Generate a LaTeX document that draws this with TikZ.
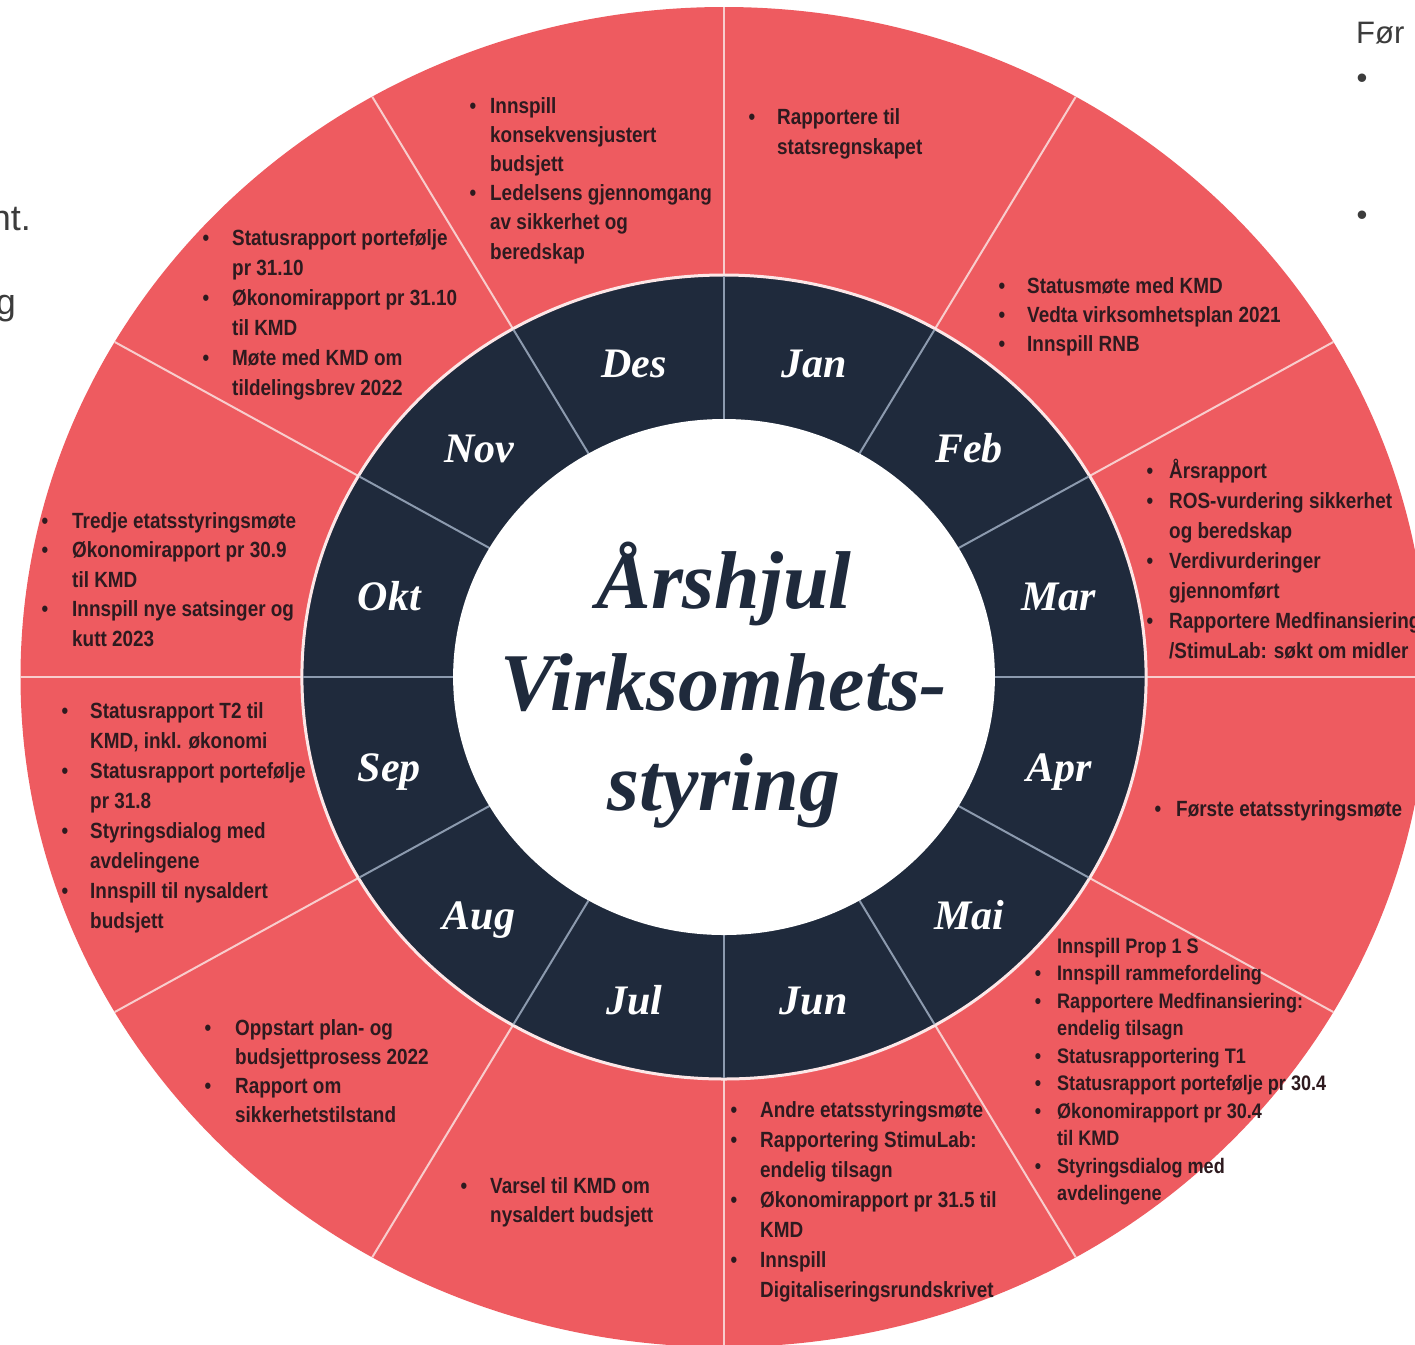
\documentclass[tikz,border=0pt]{standalone}
\usepackage{fontspec}
\newfontfamily\bodyfont{Liberation Sans}[FakeStretch=0.86]
\newfontfamily\slidefont{Liberation Sans}
\newfontfamily\titlefont{Liberation Serif}

\definecolor{wheelred}{RGB}{238,91,96}
\definecolor{wheelnavy}{RGB}{31,42,60}
\definecolor{itemink}{RGB}{46,26,31}
\definecolor{redspoke}{RGB}{248,205,205}
\definecolor{navyspoke}{RGB}{140,154,174}
\definecolor{slidegray}{RGB}{60,60,60}

% bullet hung to the left of a line, gap set per block
\newlength\bulgap
\newcommand\itembul{\llap{\textbullet\hspace{\bulgap}}}
% #1 name, #2 extra style, #3 x of text, #4 first baseline, #5 line step, #6 bullet gap, #7 lines
\newcommand\itemblock[7]{%
  \setlength\bulgap{#6pt}%
  \foreach \blockline [count=\k from 0] in {#7}{%
    \node[itemtext,#2] (#1-\k) at (#3, {-(#4+\k*#5)}) {\blockline};
  }%
}

\begin{document}
\begin{tikzpicture}[x=1pt,y=1pt,
  itemtext/.style={font=\bodyfont\bfseries\fontsize{22}{26}\selectfont,
    text=itemink, inner sep=0, anchor=base west},
  maitext/.style={font=\bodyfont\bfseries\fontsize{21}{25}\selectfont},
  monthlabel/.style={font=\titlefont\bfseries\itshape\fontsize{42}{42}\selectfont,
    text=white, inner sep=0, anchor=base},
  titletext/.style={font=\titlefont\bfseries\itshape\fontsize{82}{82}\selectfont,
    text=wheelnavy, inner sep=0, anchor=base},
  slidetext/.style={font=\slidefont\fontsize{#1}{#1}\selectfont, text=slidegray, inner sep=0}
]
\useasboundingbox (0,0) rectangle (1415,-1344);
\begin{scope}
\clip (0,0) rectangle (1415,-1344);
\fill[white] (0,0) rectangle (1415,-1344);

% outer red ring with its twelve spokes
\begin{scope}[shift={(724,-677)}, xscale=1.05]
  \fill[wheelred] (0,0) circle[radius=670];
  \foreach \a in {0,30,...,330}
    \draw[redspoke, line width=2pt] (\a:401) -- (\a:670);
\end{scope}

% activities per month
\itemblock{des}{}{490}{113}{29.2}{14}{\itembul Innspill, konsekvensjustert, budsjett, \itembul Ledelsens gjennomgang, av sikkerhet og, beredskap}
\itemblock{jan}{}{777}{124}{30}{22}{\itembul Rapportere til, statsregnskapet}
\itemblock{feb}{}{1027}{293}{29}{22}{\itembul Statusmøte med KMD, \itembul Vedta virksomhetsplan 2021, \itembul Innspill RNB}
\itemblock{mar}{}{1169}{478}{30}{16}{\itembul Årsrapport, \itembul ROS-vurdering sikkerhet, og beredskap, \itembul Verdivurderinger, gjennomført, \itembul Rapportere Medfinansiering, /StimuLab: søkt om midler}
\itemblock{apr}{}{1176}{816}{0}{15}{\itembul Første etatsstyringsmøte}
\itemblock{mai}{maitext}{1057}{953}{27.5}{16}{Innspill Prop 1 S, \itembul Innspill rammefordeling, \itembul Rapportere Medfinansiering:, endelig tilsagn, \itembul Statusrapportering T1, \itembul Statusrapport portefølje pr 30.4, \itembul Økonomirapport pr 30.4, til KMD, \itembul Styringsdialog med, avdelingene}
\itemblock{jun}{}{760}{1117}{30}{23}{\itembul Andre etatsstyringsmøte, \itembul Rapportering StimuLab:, endelig tilsagn, \itembul Økonomirapport pr 31.5 til, KMD, \itembul Innspill, Digitaliseringsrundskrivet}
\itemblock{jul}{}{490}{1193}{29}{23}{\itembul Varsel til KMD om, nysaldert budsjett}
\itemblock{aug}{}{235}{1035}{29}{24}{\itembul Oppstart plan- og, budsjettprosess 2022, \itembul Rapport om, sikkerhetstilstand}
\itemblock{sep}{}{90}{718}{30}{22}{\itembul Statusrapport T2 til, {KMD, inkl. økonomi}, \itembul Statusrapport portefølje, pr 31.8, \itembul Styringsdialog med, avdelingene, \itembul Innspill til nysaldert, budsjett}
\itemblock{okt}{}{72}{528}{29.5}{24}{\itembul Tredje etatsstyringsmøte, \itembul Økonomirapport pr 30.9, til KMD, \itembul Innspill nye satsinger og, kutt 2023}
\itemblock{nov}{}{232}{245}{30}{23}{\itembul Statusrapport portefølje, pr 31.10, \itembul Økonomirapport pr 31.10, til KMD, \itembul Møte med KMD om, tildelingsbrev 2022}

% dark month ring and white hub
\begin{scope}[shift={(724,-677)}, xscale=1.05]
  \fill[wheelnavy] (0,0) circle[radius=401];
  \draw[white!85!wheelred, line width=3pt] (0,0) circle[radius=402];
  \foreach \a in {0,30,...,330}
    \draw[navyspoke, line width=2pt] (\a:258) -- (\a:401);
  \fill[white] (0,0) circle[radius=258];
  \foreach \m [count=\i from 0] in {Jan,Feb,Mar,Apr,Mai,Jun,Jul,Aug,Sep,Okt,Nov,Des}{
    \pgfmathsetmacro\ang{75-30*\i}
    \path (\ang:330) ++(0,-19) node[monthlabel] (month-\m) {\m};
  }
\end{scope}

% title in the hub
\node[titletext] (title-1) at (724,-608) {Årshjul};
\node[titletext] (title-2) at (724,-710) {Virksomhets-};
\node[titletext] (title-3) at (724,-810) {styring};

% slide text running in from the edges
\node[slidetext=36, anchor=base east] (edge-nt) at (31,-230) {nt.};
\node[slidetext=36, anchor=base east] (edge-g) at (16,-314) {g};
\node[slidetext=31, anchor=base west] (edge-for) at (1356,-43) {Før};
\node[slidetext=31] (edge-bul1) at (1362,-81) {•};
\node[slidetext=31] (edge-bul2) at (1362,-218) {•};
\end{scope}
\end{tikzpicture}
\end{document}
